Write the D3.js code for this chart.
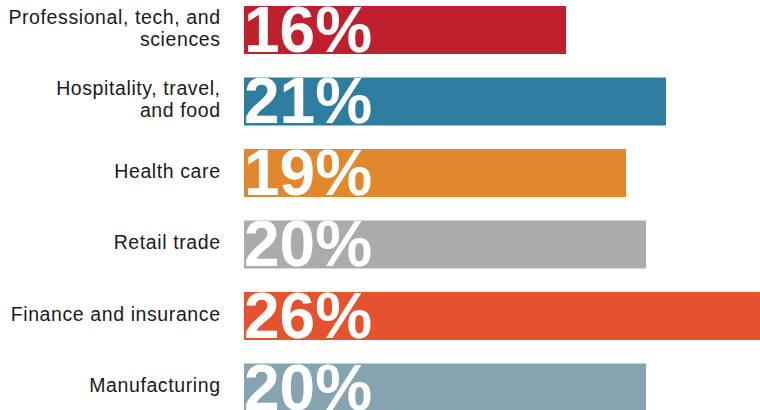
<!DOCTYPE html>
<html>
<head>
<meta charset="utf-8">
<script src="https://cdn.jsdelivr.net/npm/d3@7"></script>
<style>
  html, body { margin: 0; padding: 0; background: #fff; }
  svg { display: block; font-family: "Liberation Sans", Arial, Helvetica, sans-serif; }
</style>
</head>
<body>
<div class="wrapper"></div>
<script>
var categories = [
  "Professional, tech, and sciences",
  "Hospitality, travel, and food",
  "Health care",
  "Retail trade",
  "Finance and insurance",
  "Manufacturing"
];
// how each label wraps
var labelLines = [
  ["Professional, tech, and", "sciences"],
  ["Hospitality, travel,", "and food"],
  ["Health care"],
  ["Retail trade"],
  ["Finance and insurance"],
  ["Manufacturing"]
];
var values = [16, 21, 19, 20, 26, 20];
var colors = ["#c0202e", "#2e7ca0", "#e3872c", "#ababab", "#e4522e", "#85a4b0"];

var width = 760,
  height = 410,
  barLeft = 244,
  labelRight = 220;

var svg = d3
  .select(".wrapper")
  .append("svg")
  .attr("width", width)
  .attr("height", height);

var x = d3.scaleLinear().domain([0, 26]).range([2, 522]);

var y = d3
  .scaleBand()
  .domain(categories)
  .range([6, 411.5])
  .paddingInner(0.3287)
  .paddingOuter(0);

var rows = categories.map((c, i) => ({
  name: c,
  lines: labelLines[i],
  value: values[i],
  color: colors[i]
}));

var defs = svg.append("defs");
defs
  .selectAll("clipPath")
  .data(rows)
  .enter()
  .append("clipPath")
  .attr("id", (d, i) => "clip-" + i)
  .append("rect")
  .attr("x", barLeft)
  .attr("y", d => y(d.name))
  .attr("width", d => x(d.value))
  .attr("height", y.bandwidth());

var row = svg
  .selectAll(".row")
  .data(rows)
  .enter()
  .append("g")
  .attr("class", "row");

row
  .append("rect")
  .attr("x", barLeft)
  .attr("y", d => y(d.name))
  .attr("width", d => x(d.value))
  .attr("height", y.bandwidth())
  .style("fill", d => d.color);

// big percentage inside the bar, clipped to it
row
  .append("text")
  .attr("clip-path", (d, i) => "url(#clip-" + i + ")")
  .attr("x", barLeft)
  .attr("y", d => y(d.name) + y.bandwidth() - 2)
  .style("font-size", "64px")
  .style("font-weight", "bold")
  .style("fill", "#fff")
  .text(d => d.value + "%");

// category labels, right aligned
var labels = row
  .append("text")
  .attr("text-anchor", "end")
  .style("font-size", "19.5px")
  .style("letter-spacing", "0.6px")
  .style("fill", "#1a1a1a");

labels
  .selectAll("tspan")
  .data(d => d.lines.map((l, j) => ({ text: l, j: j, n: d.lines.length, name: d.name })))
  .enter()
  .append("tspan")
  .attr("x", labelRight + 0.6)
  .attr("y", t => y(t.name) + y.bandwidth() / 2 + 4.7 + (t.j - (t.n - 1) / 2) * 22)
  .text(t => t.text);
</script>
</body>
</html>
